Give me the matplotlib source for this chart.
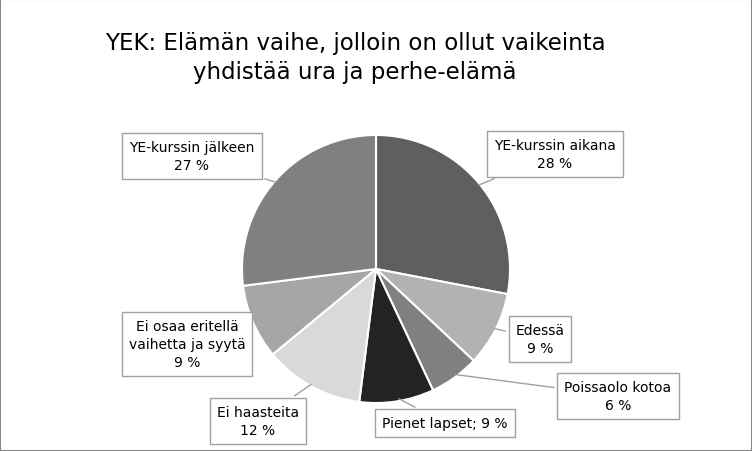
import matplotlib
matplotlib.use("Agg")
import matplotlib.pyplot as plt
import numpy as np

labels = ["YE-kurssin aikana\n28 %", "Edessä\n9 %", "Poissaolo kotoa\n6 %", "Pienet lapset; 9 %",
          "Ei haasteita\n12 %", "Ei osaa eritellä\nvaihetta ja syytä\n9 %", "YE-kurssin jälkeen\n27 %"]
values = [28, 9, 6, 9, 12, 9, 27]
colors = ["#5f5f5f", "#b2b2b2", "#808080", "#232323", "#d9d9d9", "#a6a6a6", "#808080"]
box_px = [(555, 155), (540, 340), (618, 397), (445, 424), (258, 422), (187, 345), (192, 157)]

W, H = 752, 452
fig = plt.figure(figsize=(W/100, H/100), dpi=100)
fig.patches.append(plt.Rectangle((0, 0), 1, 1, transform=fig.transFigure, fill=False, edgecolor="#888888", lw=1.5))
cx, cy, r = 376, 270, 134
ax = fig.add_axes([(cx-r)/W, (H-cy-r)/H, 2*r/W, 2*r/H])
wedges, _ = ax.pie(values, colors=colors, startangle=90, counterclock=False,
                   wedgeprops=dict(edgecolor="white", linewidth=1.5))
ax.set_xlim(-1, 1); ax.set_ylim(-1, 1); ax.set_aspect("equal")

fig.text(355/W, (H-58)/H, "YEK: Elämän vaihe, jolloin on ollut vaikeinta\nyhdistää ura ja perhe-elämä",
         ha="center", va="center", fontsize=16.5, linespacing=1.3)

for w, lab, (bx, by) in zip(wedges, labels, box_px):
    ang = np.deg2rad((w.theta1 + w.theta2) / 2)
    xy = (0.97*np.cos(ang), 0.97*np.sin(ang))
    ax.annotate(lab, xy=xy, xycoords="data", xytext=(bx/W, 1-by/H), textcoords="figure fraction",
                ha="center", va="center", fontsize=10, linespacing=1.4,
                bbox=dict(boxstyle="square,pad=0.5", fc="white", ec="#a0a0a0", lw=1),
                arrowprops=dict(arrowstyle="-", color="#a0a0a0", lw=1), annotation_clip=False)

fig.savefig("out.png", dpi=100)
